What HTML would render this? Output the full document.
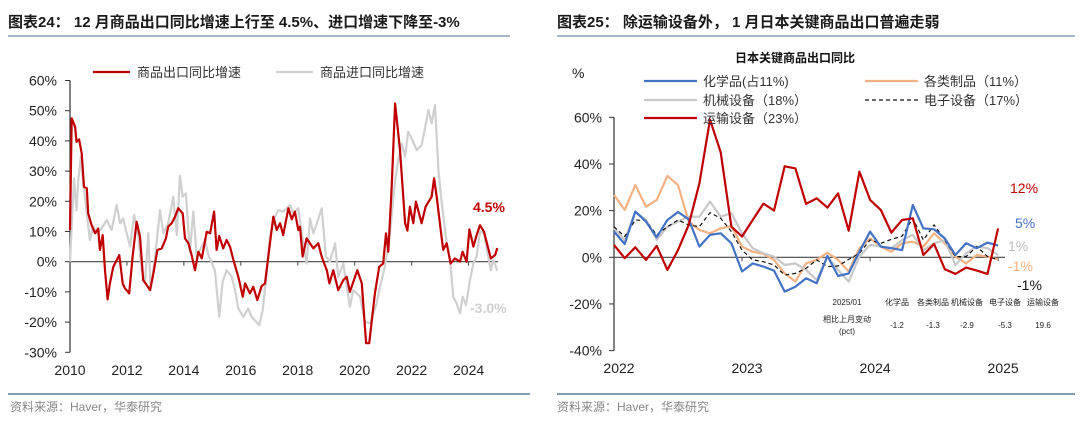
<!DOCTYPE html>
<html><head><meta charset="utf-8">
<style>
body{margin:0;background:#fff;}
svg{display:block;font-family:"Liberation Sans","Noto Sans CJK SC",sans-serif;}
</style></head>
<body>
<svg id="c" width="1080" height="425" viewBox="0 0 1080 425" xmlns="http://www.w3.org/2000/svg">
<g>
<text x="8" y="27" font-size="15" font-weight="bold" fill="#1a1a1a">图表24：  12 月商品出口同比增速上行至 4.5%、进口增速下降至-3%</text>
<line x1="8" y1="36" x2="510" y2="36" stroke="#8aa0b8" stroke-width="1.5"/>
</g>
<g>
<text x="557" y="27" font-size="15" font-weight="bold" fill="#1a1a1a">图表25：  除运输设备外， 1 月日本关键商品出口普遍走弱</text>
<line x1="557" y1="36" x2="1075" y2="36" stroke="#8aa0b8" stroke-width="1.5"/>
</g>
<line x1="8" y1="394" x2="530" y2="394" stroke="#5a7896" stroke-width="1.5"/>
<line x1="557" y1="394" x2="1075" y2="394" stroke="#5a7896" stroke-width="1.5"/>
<text x="10" y="411" font-size="12" fill="#888">资料来源：Haver，华泰研究</text>
<text x="557" y="411" font-size="12" fill="#888">资料来源：Haver，华泰研究</text>
<g id="L"></g>
<g id="R"></g>
</svg>
<script>
// ---------- Left chart data ----------
const leftYTicks = [60,50,40,30,20,10,0,-10,-20,-30];
const leftXTicks = [2010,2012,2014,2016,2018,2020,2022,2024];
const exportDates = [2010.00,2010.06,2010.18,2010.23,2010.32,2010.41,2010.49,2010.59,2010.64,2010.76,2010.88,2010.99,2011.05,2011.15,2011.23,2011.32,2011.40,2011.52,2011.73,2011.85,2011.93,2012.08,2012.20,2012.34,2012.46,2012.57,2012.67,2012.81,2012.93,2013.07,2013.22,2013.37,2013.45,2013.57,2013.69,2013.80,2013.96,2014.04,2014.16,2014.27,2014.39,2014.51,2014.63,2014.80,2014.92,2015.06,2015.15,2015.24,2015.38,2015.50,2015.62,2015.74,2015.91,2016.07,2016.15,2016.32,2016.44,2016.58,2016.73,2016.85,2017.00,2017.14,2017.26,2017.38,2017.49,2017.67,2017.79,2017.90,2018.02,2018.08,2018.17,2018.31,2018.55,2018.72,2018.84,2019.02,2019.11,2019.25,2019.42,2019.60,2019.72,2019.83,2020.09,2020.25,2020.40,2020.51,2020.71,2020.86,2021.00,2021.10,2021.18,2021.30,2021.42,2021.59,2021.77,2021.85,2021.94,2022.06,2022.15,2022.35,2022.49,2022.70,2022.79,2022.88,2023.02,2023.11,2023.23,2023.37,2023.52,2023.70,2023.79,2023.93,2024.03,2024.17,2024.28,2024.40,2024.54,2024.78,2024.93,2025.01];
const exportValues = [10.5,47.5,44.7,39.7,40.5,35.9,24.8,24.3,16,12.1,9.4,11,3.9,8.8,-2.8,-12.5,-7.2,-1.7,2.2,-7.2,-8.8,-10.5,1.7,13.2,8.3,-6.1,-7.4,-9.4,-3.9,3.9,4.4,7.7,11.6,12.7,14.9,17.7,16,7.7,6.1,2.2,-2.8,3.3,1.1,9.9,9.4,16.6,3.9,8.5,4.4,7.2,5,0.6,-5,-11.6,-7.2,-10.5,-8.3,-12.7,-8.1,-7.2,4.4,14.9,10.5,12.7,8.8,17.7,14,16.6,10.5,11.6,1.7,7.7,4.4,6.1,1.7,-2.8,-7.2,-2.8,-9.4,-6.1,-5,-10,-2.8,-7.2,-27,-27,-10.5,-1.7,-0.6,9.4,3.3,24.8,52.4,37,12.7,10.3,18.2,12.7,19.9,12.7,18.2,21.5,27.6,21.5,10.5,3.9,6.1,-0.6,1.1,0,3.3,0,10.7,5,8.8,12.1,9.9,1.1,2.2,4.5];
const importDates = [2010.00,2010.14,2010.23,2010.29,2010.38,2010.47,2010.59,2010.70,2010.82,2010.94,2011.11,2011.29,2011.46,2011.64,2011.76,2011.87,2011.99,2012.11,2012.25,2012.40,2012.52,2012.63,2012.75,2012.83,2012.99,2013.16,2013.28,2013.45,2013.63,2013.75,2013.86,2013.96,2014.07,2014.21,2014.33,2014.45,2014.57,2014.74,2014.86,2015.09,2015.24,2015.36,2015.50,2015.68,2015.80,2015.91,2016.09,2016.26,2016.38,2016.65,2016.77,2016.91,2017.02,2017.20,2017.32,2017.49,2017.73,2017.84,2018.02,2018.14,2018.31,2018.43,2018.55,2018.67,2018.84,2018.99,2019.13,2019.31,2019.42,2019.60,2019.83,2019.95,2020.19,2020.36,2020.54,2020.77,2020.89,2021.06,2021.24,2021.42,2021.53,2021.65,2021.77,2021.88,2022.00,2022.18,2022.35,2022.47,2022.59,2022.70,2022.82,2022.94,2023.06,2023.23,2023.35,2023.46,2023.58,2023.70,2023.79,2023.91,2024.05,2024.17,2024.28,2024.40,2024.54,2024.69,2024.78,2024.87,2025.01];
const importValues = [0,27.6,17,27,34.8,25.4,16,7.2,11.6,9.4,11,13.8,10.5,18.8,12.7,14.3,9.4,5,15.5,8.3,-2.8,-7.2,9.4,-9.4,1.7,17.1,9.4,12.7,21.5,8.8,28.4,21.5,22.6,3.3,16.6,1.7,3.9,7.2,2.2,-2.8,-18.2,-6.6,-2.8,-5,-9.4,-15.5,-18.2,-15.5,-18.2,-21,-16,-3.9,8.3,14.9,17.1,16.6,18.8,16,17.7,9.4,-0.6,14.3,9.4,12.7,17.7,1.7,0,6.1,-5,-0.6,-14.9,-9.4,-11.6,-19.9,-20.4,-13.8,-8.3,-1.7,9.4,27,33.7,39.2,34.8,43,40.8,37,38.6,44.2,50.3,45.8,51.9,30.4,19.3,6.1,0.6,-11.6,-13.8,-17.1,-11.6,-14.4,-6.1,-0.6,1.7,9.9,9.4,1.7,-2.8,0.6,-3];

// ---------- Right chart data ----------
const rightYTicks = [60,40,20,0,-20,-40];
const rightXTicks = ["2022","2023","2024","2025"];
const rightXTickIdx = [0,12,24,36];
const chemValues = [11,5.7,19.6,15.3,8.6,16,19.4,16.3,4.6,9.6,10.3,6,-6.1,-2.6,-4,-5.7,-14.7,-12.6,-9,-11.1,0.6,-8,-6.9,2.4,11,4.6,3.9,3.1,22.4,12.4,12,8.1,1,6,3.9,6.3,5];
const goodsValues = [26.7,20.3,31,21.7,24.6,34.9,31,15.3,11.7,10.3,12.4,13.4,4.6,2.4,1.4,-1.1,-6.9,-10.4,-2.6,-1.1,2,-1.1,-6.1,3.9,8.1,4.6,2.4,6,6.7,4.6,10.3,6,0.3,-2.6,1,0.3,-0.9];
const machValues = [12.4,7.4,19.6,16,7.4,13.1,15.3,17.4,17.4,23.9,17.4,18.9,10.3,3.9,1.7,0.3,-3.3,-2.6,-5.4,-9.7,0.3,-5.4,-10.4,0.3,5.3,4.6,3.9,7.4,9.6,3.1,6,7.4,-3.3,1.7,4.6,3.9,1];
const elecValues = [13.1,8.9,16,15.7,9.6,13.1,16,13.9,13.1,19.1,16.7,11,3.1,-1.1,-1.9,-3.3,-7.6,-6.9,-4.7,-1.1,-4,-3.7,-0.9,1.7,7.4,6,7.7,9.1,16.7,7.4,13.9,7.4,0.3,0.3,4.6,0.3,-1];
const transValues = [5.3,-0.4,4.3,-1.1,4.9,-5.4,3.1,13.9,31.7,59,45,13.1,8.9,16,23,20,39,38.1,22.9,25.3,21.3,27.4,11.4,36.7,24.6,20.3,10.6,16,16.7,1,5.7,-5.1,-7.1,-4.4,-5.7,-7.1,12.4];
const tableHeaders = ["2025/01","化学品","各类制品","机械设备","电子设备","运输设备"];
const tableChanges = ["-1.2","-1.3","-2.9","-5.3","19.6"];

const NS="http://www.w3.org/2000/svg";
function mk(parent,tag,attrs,txt){const e=document.createElementNS(NS,tag);for(const k in attrs)e.setAttribute(k,attrs[k]);if(txt!==undefined)e.textContent=txt;parent.appendChild(e);return e;}

// ---------- Left chart ----------
const L=document.getElementById('L');
const lx=y=>70+(y-2010)*28.47;
const ly=v=>261.7-v*3.02;
let ax=mk(L,'line',{x1:70,y1:ly(60),x2:70,y2:ly(-30),stroke:'#333','stroke-width':1.2});


leftYTicks.forEach(t=>{
 const tk=mk(L,'line',{x1:65,y1:ly(t),x2:70,y2:ly(t),stroke:'#333','stroke-width':1});
 
 
 const lb=mk(L,'text',{x:57,y:ly(t)+5,'text-anchor':'end','font-size':14,fill:'#222'},t+'%');
 
 
});
const z=mk(L,'line',{x1:70,y1:ly(0),x2:498,y2:ly(0),stroke:'#444','stroke-width':1.2});


leftXTicks.forEach(t=>{
 const tk=mk(L,'line',{x1:lx(t),y1:ly(0),x2:lx(t),y2:ly(0)+4,stroke:'#444','stroke-width':1});
 
 
 const lb=mk(L,'text',{x:lx(t),y:375,'text-anchor':'middle','font-size':14,fill:'#222'},String(t));
 
 
});
function pathOf(xs,ys,fx,fy){return xs.map((x,i)=>(i?'L':'M')+fx(x).toFixed(1)+','+fy(ys[i]).toFixed(1)).join('');}
const imp=mk(L,'path',{d:pathOf(importDates,importValues,lx,ly),fill:'none',stroke:'#d0d0d0','stroke-width':2.2,'stroke-linejoin':'round'});


const exp=mk(L,'path',{d:pathOf(exportDates,exportValues,lx,ly),fill:'none',stroke:'#c00000','stroke-width':2.2,'stroke-linejoin':'round'});


let e;
e=mk(L,'text',{x:473,y:212,'font-size':14,'font-weight':'bold',fill:'#c00000'},'4.5%');


e=mk(L,'text',{x:470,y:313,'font-size':14,'font-weight':'bold',fill:'#cfcfcf'},'-3.0%');


e=mk(L,'line',{x1:93,y1:72,x2:130,y2:72,stroke:'#c00000','stroke-width':2.2});


e=mk(L,'text',{x:137,y:77,'font-size':13,fill:'#333'},'商品出口同比增速');


e=mk(L,'line',{x1:276,y1:72,x2:313,y2:72,stroke:'#d0d0d0','stroke-width':2.2});


e=mk(L,'text',{x:320,y:77,'font-size':13,fill:'#333'},'商品进口同比增速');



// ---------- Right chart ----------
const R=document.getElementById('R');
const rx=i=>614+i*10.67;
const ry=v=>257.3-v*2.333;
e=mk(R,'text',{x:795,y:62,'text-anchor':'middle','font-size':12,'font-weight':'bold',fill:'#111'},'日本关键商品出口同比');


e=mk(R,'text',{x:572,y:78,'font-size':14,fill:'#222'},'%');


e=mk(R,'line',{x1:614,y1:ry(60),x2:614,y2:ry(-40),stroke:'#333','stroke-width':1.2});


rightYTicks.forEach(t=>{
 const tk=mk(R,'line',{x1:609,y1:ry(t),x2:614,y2:ry(t),stroke:'#333','stroke-width':1});
 
 
 const lb=mk(R,'text',{x:602,y:ry(t)+5,'text-anchor':'end','font-size':14,fill:'#222'},t+'%');
 
 
});
e=mk(R,'line',{x1:614,y1:ry(0),x2:1005,y2:ry(0),stroke:'#444','stroke-width':1.2});


rightXTicks.forEach((t,k)=>{
 const i=rightXTickIdx[k];
 const tk=mk(R,'line',{x1:rx(i),y1:ry(0),x2:rx(i),y2:ry(0)+4,stroke:'#444','stroke-width':1});
 
 
 const lb=mk(R,'text',{x:rx(i)+5,y:373,'text-anchor':'middle','font-size':14,fill:'#222'},t);
 
 
});
const idx=chemValues.map((_,i)=>i);
const series=[
 {v:goodsValues,c:'#f4b183',n:'goods-line',d:''},
 {v:machValues,c:'#c8c8c8',n:'machinery-line',d:''},
 {v:elecValues,c:'#111',n:'electronics-line',d:'4,3',w:1.2},
 {v:chemValues,c:'#4472c4',n:'chemicals-line',d:''},
 {v:transValues,c:'#c00000',n:'transport-line',d:''}
];
series.forEach(s=>{
 const p=mk(R,'path',{d:pathOf(idx,s.v,rx,ry),fill:'none',stroke:s.c,'stroke-width':s.w||2.2,'stroke-dasharray':s.d,'stroke-linejoin':'round'});
 
 
});
const legends=[
 [644,81,'#4472c4','','化学品(占11%)','legend-chemicals'],
 [644,100,'#c8c8c8','','机械设备（18%）','legend-machinery'],
 [644,118,'#c00000','','运输设备（23%）','legend-transport'],
 [865,81,'#f4b183','','各类制品（11%）','legend-goods'],
 [865,100,'#111','4,3','电子设备（17%）','legend-electronics']
];
legends.forEach(g=>{
 const sw=mk(R,'line',{x1:g[0],y1:g[1],x2:g[0]+53,y2:g[1],stroke:g[2],'stroke-width':g[3]?1.2:2.2,'stroke-dasharray':g[3]});
 
 
 const tx=mk(R,'text',{x:g[0]+59,y:g[1]+5,'font-size':13,fill:'#333'},g[4]);
 
 
});
const ends=[[1010,193,'#c00000','12%','transport-end-label'],[1015,228,'#4472c4','5%','chemicals-end-label'],[1008,251,'#bdbdbd','1%','machinery-end-label'],[1008,271,'#f4b183','-1%','goods-end-label'],[1017,290,'#111','-1%','electronics-end-label']];
ends.forEach(d=>{
 const t=mk(R,'text',{x:d[0],y:d[1],'font-size':14,fill:d[2]},d[3]);
 
 
});
const colX=[847,897,933,967,1005,1043];
tableHeaders.forEach((h,i)=>{
 const t=mk(R,'text',{x:colX[i],y:305,'text-anchor':'middle','font-size':8,fill:'#222'},h);
 
 
});
e=mk(R,'text',{x:847,y:322,'text-anchor':'middle','font-size':8,fill:'#222'},'相比上月变动');


e=mk(R,'text',{x:847,y:334,'text-anchor':'middle','font-size':8,fill:'#222'},'(pct)');


tableChanges.forEach((v,i)=>{
 const t=mk(R,'text',{x:colX[i+1],y:328,'text-anchor':'middle','font-size':8,fill:'#222'},v);
 
 
});
</script>
</body></html>
